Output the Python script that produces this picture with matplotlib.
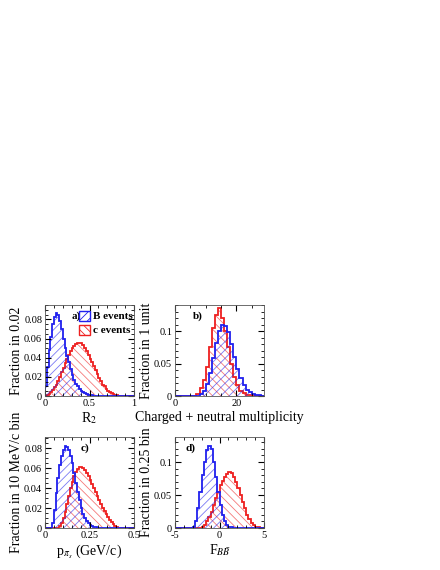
import numpy as np
import matplotlib
matplotlib.use('Agg')
import matplotlib.pyplot as plt
import matplotlib.patches as mpatches

plt.rcParams['font.family'] = ['Liberation Serif', 'DejaVu Serif']
plt.rcParams['mathtext.fontset'] = 'stix'
plt.rcParams['hatch.linewidth'] = 0.6

# panel a: R2, bins of 0.02 starting at 0
r2_B = [0.01,0.03,0.048,0.062,0.075,0.082,0.087,0.085,0.078,0.07,0.06,0.05,0.042,0.035,0.028,
        0.022,0.017,0.013,0.01,0.007,0.005,0.004,0.003,0.002,0.0015,0.001,0.0007,0.0005,0.0003,0.0002]
r2_c = [0,0.001,0.002,0.004,0.006,0.009,0.012,0.016,0.02,0.025,0.029,0.034,0.039,0.043,0.047,0.05,
        0.052,0.054,0.055,0.055,0.055,0.053,0.05,0.047,0.043,0.039,0.035,0.031,0.027,0.023,0.019,
        0.016,0.012,0.01,0.007,0.005,0.004,0.003,0.002,0.001,0.0007,0.0004]

# panel b: multiplicity, unit bins
mult_B_start = 8
mult_B = [0.003,0.008,0.018,0.035,0.058,0.082,0.1,0.11,0.108,0.098,0.08,0.06,0.042,0.028,0.017,
          0.01,0.006,0.003,0.002,0.001]
mult_c_start = 7
mult_c = [0.003,0.012,0.024,0.045,0.075,0.105,0.125,0.135,0.12,0.1,0.075,0.05,0.03,0.017,0.008,
          0.004,0.002,0.001]

# panel c: p_pi_s, bins of 0.01
p_B_start = 0.04
p_B = [0.005,0.018,0.035,0.05,0.063,0.072,0.078,0.082,0.081,0.078,0.072,0.065,0.055,0.045,0.036,
       0.028,0.02,0.014,0.01,0.007,0.005,0.003,0.002,0.001,0.001]
p_c_start = 0.08
p_c = [0.002,0.005,0.01,0.016,0.024,0.032,0.04,0.046,0.052,0.056,0.059,0.061,0.061,0.06,0.058,
       0.055,0.052,0.048,0.044,0.04,0.036,0.032,0.028,0.024,0.02,0.017,0.014,0.011,0.008,0.006,
       0.004,0.002,0.001]

# panel d: Fisher, bins of 0.25
f_B_start = -3.0
f_B = [0.002,0.01,0.03,0.055,0.08,0.1,0.118,0.125,0.12,0.1,0.078,0.055,0.035,0.02,0.01,0.005,
       0.002,0.001]
f_c_start = -2.0
f_c = [0.002,0.005,0.01,0.017,0.025,0.035,0.045,0.055,0.065,0.072,0.078,0.082,0.085,0.083,0.078,
       0.07,0.06,0.05,0.04,0.03,0.02,0.013,0.008,0.004,0.002,0.001]

panels = [
    dict(B=(0.0, 0.02, r2_B), c=(0.0, 0.02, r2_c), xlim=(0, 1), ylim=(0, 0.095),
         xt=[0, 0.5, 1], xtl=['0', '0.5', '1'], yt=[0, 0.02, 0.04, 0.06, 0.08],
         ytl=['0', '0.02', '0.04', '0.06', '0.08'], xlab='R$_2$', ylab='Fraction in 0.02',
         tag='a)', tagx=0.3),
    dict(B=(mult_B_start, 1, mult_B), c=(mult_c_start, 1, mult_c), xlim=(0, 29), ylim=(0, 0.14),
         xt=[0, 20], xtl=['0', '20'], yt=[0, 0.05, 0.1], ytl=['0', '0.05', '0.1'],
         xlab='Charged + neutral multiplicity', ylab='Fraction in 1 unit', tag='b)', tagx=0.2),
    dict(B=(p_B_start, 0.01, p_B), c=(p_c_start, 0.01, p_c), xlim=(0, 0.5), ylim=(0, 0.091),
         xt=[0, 0.25, 0.5], xtl=['0', '0.25', '0.5'], yt=[0, 0.02, 0.04, 0.06, 0.08],
         ytl=['0', '0.02', '0.04', '0.06', '0.08'], xlab=r'p$_{\pi_s}$ (GeV/c)',
         ylab='Fraction in 10 MeV/c bin', tag='c)', tagx=0.4),
    dict(B=(f_B_start, 0.25, f_B), c=(f_c_start, 0.25, f_c), xlim=(-5, 5), ylim=(0, 0.138),
         xt=[-5, 0, 5], xtl=['-5', '0', '5'], yt=[0, 0.05, 0.1], ytl=['0', '0.05', '0.1'],
         xlab=r'F$_{B\bar{B}}$', ylab='Fraction in 0.25 bin', tag='d)', tagx=0.12),
]

fig = plt.figure(figsize=(4.4, 5.7), dpi=100)
W, H = 440, 570
boxes = [(45, 305), (175, 305), (45, 437), (175, 437)]
blue, red = '#2020ee', '#ee2020'

for (x0, y0), p in zip(boxes, panels):
    ax = fig.add_axes([x0 / W, 1 - (y0 + 91) / H, 89 / W, 91 / H])
    for key, col, hatch in [('c', red, '\\\\\\\\'), ('B', blue, '////')]:
        start, w, vals = p[key]
        vals = np.array(vals)
        edges = start + w * np.arange(len(vals) + 1)
        ax.bar(edges[:-1], vals, width=w, align='edge', fill=False, hatch=hatch,
               edgecolor=col, linewidth=0, alpha=0.6)
        full = np.concatenate([[p['xlim'][0]], edges, [p['xlim'][1]]])
        fv = np.concatenate([[0], vals, [0]])
        ax.stairs(fv, full, color=col, linewidth=1.3)
    ax.set_xlim(*p['xlim'])
    ax.set_ylim(*p['ylim'])
    ax.set_xticks(p['xt'], p['xtl'])
    ax.set_yticks(p['yt'], p['ytl'])
    ax.minorticks_on()
    ax.tick_params(which='both', direction='in', top=True, right=True, labelsize=7.5, pad=2)
    ax.tick_params(which='major', length=4)
    ax.tick_params(which='minor', length=2)
    for s in ax.spines.values():
        s.set_linewidth(0.6)
        s.set_color('#555555')
    ax.set_xlabel(p['xlab'], fontsize=10, labelpad=2)
    ax.set_ylabel(p['ylab'], fontsize=10, labelpad=1)
    ax.text(p['tagx'], 0.93, p['tag'], transform=ax.transAxes, fontsize=8,
            fontweight='bold', va='top')

# legend in panel a
hB = mpatches.Patch(facecolor='none', edgecolor=blue, hatch='////', linewidth=1)
hc = mpatches.Patch(facecolor='none', edgecolor=red, hatch='\\\\\\\\', linewidth=1)
fig.axes[0].legend([hB, hc], ['B events', 'c events'], loc='upper right', frameon=False,
                   prop={'size': 8, 'weight': 'bold'}, handlelength=1, handleheight=1,
                   handletextpad=0.3, borderaxespad=0.1, labelspacing=0.3,
                   bbox_to_anchor=(1.05, 1.0))

fig.savefig('out.png', dpi=100)
